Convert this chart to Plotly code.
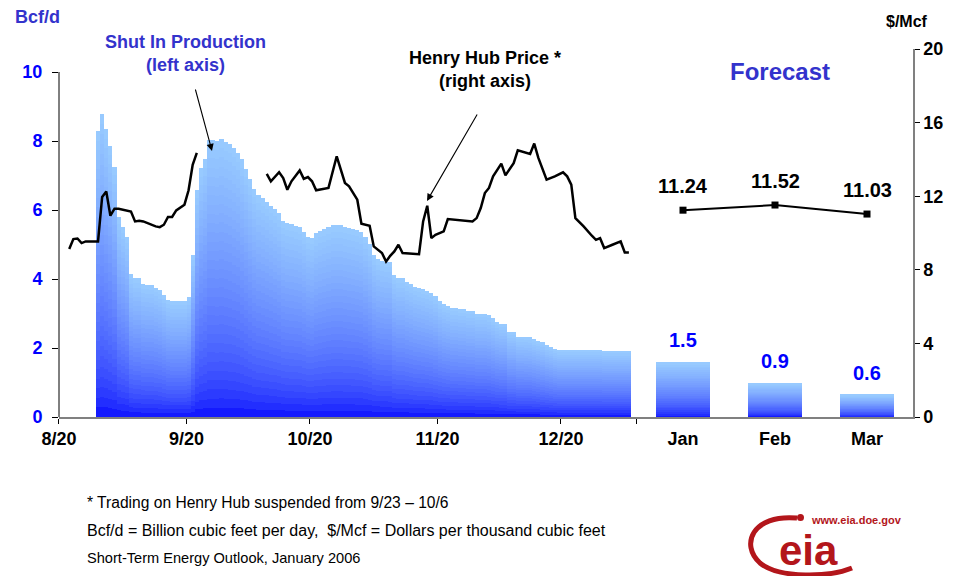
import plotly.graph_objects as go
import pandas as pd

# ---------------- data ----------------
shut_in_first_day = "2005-08-29"
shut_in = [8.29, 8.78, 8.35, 7.86, 7.25, 5.80, 5.52, 5.23, 4.14, 4.02,
           4.02, 3.85, 3.83, 3.82, 3.75, 3.68, 3.54, 3.39, 3.36, 3.36,
           3.36, 3.36, 3.47, 4.70, 6.58, 7.21, 7.48, 8.03, 8.03, 8.00,
           8.06, 7.98, 7.91, 7.79, 7.66, 7.47, 7.19, 6.89, 6.61, 6.43,
           6.34, 6.24, 6.12, 6.02, 5.90, 5.68, 5.61, 5.58, 5.54, 5.50,
           5.37, 5.23, 5.18, 5.32, 5.39, 5.44, 5.50, 5.56, 5.56, 5.56,
           5.52, 5.49, 5.46, 5.42, 5.37, 5.23, 5.01, 4.71, 4.57, 4.53,
           4.50, 4.49, 4.12, 4.02, 4.02, 3.92, 3.86, 3.78, 3.74, 3.70,
           3.65, 3.60, 3.51, 3.36, 3.27, 3.22, 3.17, 3.17, 3.13, 3.13,
           3.08, 3.08, 3.00, 3.00, 3.00, 2.96, 2.86, 2.76, 2.71, 2.71,
           2.46, 2.46, 2.33, 2.33, 2.32, 2.31, 2.25, 2.20, 2.16, 2.09,
           2.04, 1.98, 1.94, 1.94, 1.94, 1.94, 1.94, 1.94, 1.94, 1.94,
           1.94, 1.94, 1.94, 1.91, 1.91, 1.91, 1.91, 1.91, 1.91, 1.91]

price_dates = [
    "2005-08-22", "2005-08-23", "2005-08-24", "2005-08-25", "2005-08-26",
    "2005-08-29", "2005-08-30", "2005-08-31", "2005-09-01", "2005-09-02",
    "2005-09-03", "2005-09-06", "2005-09-07", "2005-09-08", "2005-09-09",
    "2005-09-10", "2005-09-12", "2005-09-13", "2005-09-14", "2005-09-15",
    "2005-09-16", "2005-09-17", "2005-09-19", "2005-09-20", "2005-09-21",
    "2005-09-22", "2005-09-23",
    "2005-10-09", "2005-10-10", "2005-10-12", "2005-10-13", "2005-10-14",
    "2005-10-15", "2005-10-17", "2005-10-18", "2005-10-19", "2005-10-20",
    "2005-10-21", "2005-10-24", "2005-10-26", "2005-10-28", "2005-10-29",
    "2005-10-31", "2005-11-01", "2005-11-03", "2005-11-04", "2005-11-06",
    "2005-11-07", "2005-11-08", "2005-11-09", "2005-11-10", "2005-11-11",
    "2005-11-15", "2005-11-16", "2005-11-17", "2005-11-18", "2005-11-19",
    "2005-11-21", "2005-11-22", "2005-11-28", "2005-11-29", "2005-11-30",
    "2005-12-01", "2005-12-02", "2005-12-03", "2005-12-05", "2005-12-06",
    "2005-12-08", "2005-12-09", "2005-12-12", "2005-12-13", "2005-12-14",
    "2005-12-16", "2005-12-18", "2005-12-20", "2005-12-21", "2005-12-22",
    "2005-12-23", "2005-12-25", "2005-12-27", "2005-12-28", "2005-12-29",
    "2005-12-30", "2006-01-01", "2006-01-03", "2006-01-04", "2006-01-05"]
price_values = [
    9.13, 9.67, 9.70, 9.45, 9.54,
    9.54, 11.96, 12.26, 10.94, 11.32,
    11.32, 11.17, 10.63, 10.67, 10.63,
    10.54, 10.36, 10.32, 10.45, 10.87,
    10.87, 11.23, 11.54, 12.32, 13.71,
    14.35, None,
    13.21, 12.81, 13.30, 12.99, 12.35,
    12.81, 13.40, 12.94, 13.04, 12.81,
    12.32, 12.45, 14.17, 12.72, 12.54,
    11.81, 10.50, 10.39, 9.27, 8.91,
    8.45, 8.76, 9.00, 9.36, 8.91,
    8.85, 10.63, 11.48, 9.72, 9.90,
    10.09, 10.76, 10.63, 10.81, 11.36,
    12.17, 12.45, 13.08, 13.77, 13.13,
    13.80, 14.49, 14.30, 14.86, 14.08,
    12.90, 13.08, 13.30, 13.08, 12.63,
    10.81, 10.36, 9.85, 9.63, 9.72,
    9.18, 9.36, 9.54, 8.94, 8.94]

forecast_months = ["Jan", "Feb", "Mar"]
forecast_shut_in = [1.58, 0.98, 0.64]
forecast_shut_in_labels = ["1.5", "0.9", "0.6"]
forecast_price = [11.24, 11.52, 11.03]

xtick_dates = ["2005-08-20", "2005-09-20", "2005-10-20", "2005-11-20", "2005-12-20"]
xtick_labels = ["8/20", "9/20", "10/20", "11/20", "12/20"]
left_ticks = [0, 2, 4, 6, 8, 10]
right_ticks = [0, 4, 8, 12, 16, 20]

# ---------------- layout helpers ----------------
# Reference frame is 956x584. The page body has an 8px margin on every side,
# so the figure is 940x568 and placed at (8, 8) of the window.
W, H = 956, 584
OFF = 8
PL, PR, PT, PB = 59, 43, 49, 167
PW, PH = W - PL - PR, H - PT - PB
X_SPLIT = (637 - PL) / PW
FIG_W, FIG_H = W - 2 * OFF, H - 2 * OFF


def pxx(px):
    return (px - PL) / PW


def pxy(py):
    return (H - PB - py) / PH


FONT = "Liberation Sans, Arial, sans-serif"
BLUE_TXT = "#3333CC"
AXIS_GREY = "#808080"
N_LAYERS = 30
TOP_RGB = (153, 204, 255)
BOT_RGB = (0, 0, 255)


def grad(t):
    s = t ** 0.5
    return "rgb(%d,%d,%d)" % tuple(round(b + (a - b) * s) for a, b in zip(TOP_RGB, BOT_RGB))


shut_in_dates = pd.date_range(shut_in_first_day, periods=len(shut_in), freq="D")
DAY_MS = 86400000

fig = go.Figure()
for j in range(N_LAYERS):
    col = grad((j + 0.5) / N_LAYERS)
    fig.add_trace(go.Bar(x=shut_in_dates, y=[v / N_LAYERS for v in shut_in],
                         xaxis="x", yaxis="y", width=DAY_MS,
                         marker=dict(color=col, line=dict(width=0)),
                         showlegend=False, hoverinfo="skip"))
    fig.add_trace(go.Bar(x=forecast_months, y=[v / N_LAYERS for v in forecast_shut_in],
                         xaxis="x2", yaxis="y", width=0.58,
                         marker=dict(color=col, line=dict(width=0)),
                         showlegend=False, hoverinfo="skip"))

fig.add_trace(go.Scatter(x=price_dates, y=price_values, xaxis="x", yaxis="y2",
                         mode="lines", connectgaps=False,
                         line=dict(color="black", width=2.5), showlegend=False))
fig.add_trace(go.Scatter(x=forecast_months, y=forecast_price, xaxis="x2", yaxis="y2",
                         mode="lines+markers",
                         marker=dict(symbol="square", size=7, color="black"),
                         line=dict(color="black", width=2), showlegend=False))

tickvals = [str(pd.Timestamp(d) - pd.Timedelta(hours=12)) for d in xtick_dates]
tickvals.append("2006-01-06 22:00")
ticktext = xtick_labels + [""]

annotations = []
for m, v, lab in zip(forecast_months, forecast_shut_in, forecast_shut_in_labels):
    annotations.append(dict(x=m, y=v, xref="x2", yref="y", yshift=22, text=lab,
                            showarrow=False, yanchor="middle",
                            font=dict(family=FONT, size=20, color="#0000FF", weight="bold")))
for m, p in zip(forecast_months, forecast_price):
    annotations.append(dict(x=m, y=p, xref="x2", yref="y2", yshift=24, text=f"{p:.2f}",
                            showarrow=False, yanchor="middle",
                            font=dict(family=FONT, size=20, color="black", weight="bold")))


def label(text, px, py, size, color, bold=True, xanchor="center"):
    annotations.append(dict(x=pxx(px), y=pxy(py), xref="paper", yref="paper", text=text,
                            showarrow=False, xanchor=xanchor, yanchor="middle",
                            font=dict(family=FONT, size=size, color=color,
                                      weight="bold" if bold else "normal")))


label("Bcf/d", 13, 17, 18, BLUE_TXT, xanchor="left")
label("Shut In Production<br>(left axis)", 185, 53, 18, BLUE_TXT)
label("Henry Hub Price *<br>(right axis)", 485, 69, 18, "black")
label("Forecast", 780, 71, 24, BLUE_TXT)
label("$/Mcf", 907, 21, 16, "black")
label("* Trading on Henry Hub suspended from 9/23 \u2013 10/6", 85, 502, 15.6, "black", bold=False, xanchor="left")
label("Bcf/d = Billion cubic feet per day,  $/Mcf = Dollars per thousand cubic feet", 85, 530, 16, "black", bold=False, xanchor="left")
label("Short-Term Energy Outlook, January 2006", 85, 558, 14.6, "black", bold=False, xanchor="left")

# arrows
for head, tail in [((212, 151), (195, 88)), ((427, 201), (478, 113))]:
    annotations.append(dict(x=pxx(head[0]), y=pxy(head[1]), xref="paper", yref="paper",
                            ax=tail[0] - head[0], ay=tail[1] - head[1], text="",
                            showarrow=True, arrowhead=2, arrowsize=1.3, arrowwidth=1.1,
                            arrowcolor="black", standoff=0))

# logo
LOGO_RED = "#B3161B"
label("eia", 808, 550, 42, LOGO_RED)
label("www.eia.doe.gov", 856, 520, 11, LOGO_RED)


def path(points_cmds):
    out = []
    for cmd, pts in points_cmds:
        coords = " ".join(f"{pxx(x):.5f},{pxy(y):.5f}" for x, y in pts)
        out.append(f"{cmd} {coords}")
    return " ".join(out)


shapes = [
    # left axis line (only up to 10)
    dict(type="line", xref="paper", yref="y", x0=0, x1=0, y0=0, y1=10,
         line=dict(color="black", width=1)),
    # logo swoosh
    dict(type="path", xref="paper", yref="paper",
         path=path([("M", [(797, 518)]),
                    ("C", [(752, 514), (740, 545), (760, 563)]),
                    ("C", [(780, 579), (830, 577), (852, 568)])]),
         line=dict(color=LOGO_RED, width=5)),
    dict(type="circle", xref="paper", yref="paper",
         x0=pxx(797), x1=pxx(804), y0=pxy(514), y1=pxy(521),
         fillcolor=LOGO_RED, line=dict(width=0)),
]

ml, mt = PL - OFF, PT - OFF
fig.update_layout(
    width=FIG_W, height=FIG_H, autosize=False,
    margin=dict(l=ml, r=FIG_W - ml - PW, t=mt, b=FIG_H - mt - PH, pad=0, autoexpand=False),
    paper_bgcolor="white", plot_bgcolor="white",
    barmode="stack", bargap=0, showlegend=False, hovermode=False,
    font=dict(family=FONT),
    xaxis=dict(domain=[0, X_SPLIT], type="date", anchor="y", automargin=False,
               range=["2005-08-19 12:20", "2006-01-06 23:18"],
               tickmode="array", tickvals=tickvals, ticktext=ticktext,
               ticks="outside", ticklen=5, tickcolor="black", tickwidth=1,
               showline=True, linecolor=AXIS_GREY, linewidth=1.5,
               showgrid=False, zeroline=False, ticklabelstandoff=0,
               tickfont=dict(family=FONT, size=18, color="black", weight="bold")),
    xaxis2=dict(domain=[X_SPLIT, 1], type="category", anchor="y", automargin=False,
                categoryorder="array", categoryarray=forecast_months,
                range=[-0.5, 2.5], ticks="", showline=True, linecolor=AXIS_GREY,
                linewidth=1.5, showgrid=False, zeroline=False, ticklabelstandoff=5,
                tickfont=dict(family=FONT, size=18, color="black", weight="bold")),
    yaxis=dict(range=[0, 10 * PH / 345], anchor="x", side="left", automargin=False,
               tickmode="array", tickvals=left_ticks,
               ticks="outside", ticklen=6, tickcolor="black",
               showline=False, showgrid=False, zeroline=False, ticklabelstandoff=6,
               tickfont=dict(family=FONT, size=18, color="#0000FF", weight="bold")),
    yaxis2=dict(range=[0, 20], overlaying="y", anchor="x2", side="right", automargin=False,
                tickmode="array", tickvals=right_ticks,
                ticks="outside", ticklen=5, tickcolor="black",
                showline=True, linecolor=AXIS_GREY, linewidth=1.5,
                showgrid=False, zeroline=False, ticklabelstandoff=0,
                tickfont=dict(family=FONT, size=18, color="black", weight="bold")),
    annotations=annotations,
    shapes=shapes,
)

fig.write_html("out.html")
